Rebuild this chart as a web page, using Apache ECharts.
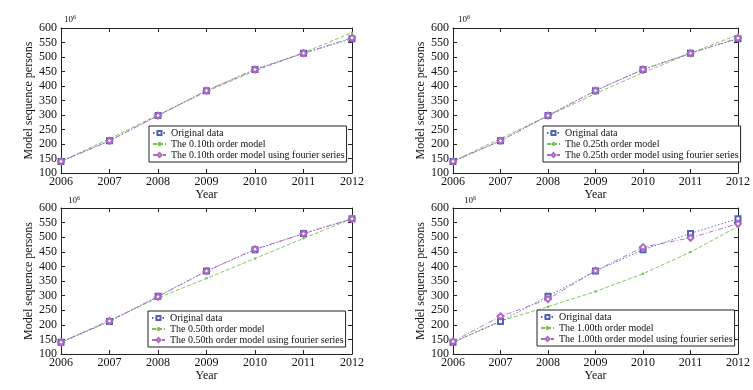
<!DOCTYPE html>
<html><head><meta charset="utf-8">
<script src="https://cdn.jsdelivr.net/npm/echarts@6/dist/echarts.min.js"></script>
<style>html,body{margin:0;padding:0;background:#fff}#c{width:753px;height:390px}</style>
</head><body><div id="c"></div>
<script>
var years = ['2006','2007','2008','2009','2010','2011','2012'];
var yTicks = [100,150,200,250,300,350,400,450,500,550,600];
var orders = ['0.10','0.25','0.50','1.00'];
var original = [140, 211, 298, 384, 457, 513, 563];
var model010 = [140, 218, 300, 381, 452, 515, 584];
var fourier010 = [140, 211, 298, 384, 457, 513, 566];
var model025 = [140, 219, 297, 374, 446, 513, 577];
var fourier025 = [140, 211, 298, 384, 457, 513, 565];
var model050 = [140, 215, 292, 359, 427, 496, 563];
var fourier050 = [140, 213, 296, 384, 459, 512, 563];
var model100 = [140, 213, 262, 314, 375, 449, 537];
var fourier100 = [143, 229, 288, 385, 466, 498, 546];
var models = [model010, model025, model050, model100];
var fouriers = [fourier010, fourier025, fourier050, fourier100];

var FONT = 'Liberation Serif';
var grids = [
  {left:61, top:28, width:291, height:145},
  {left:453, top:28, width:292, height:145},
  {left:61, top:208, width:291, height:146},
  {left:453, top:208, width:292, height:146}
];
var legendPos = [
  {left:149, top:126},
  {left:543, top:126},
  {left:148, top:311},
  {left:537, top:310}
];
var expPos = [[64,14],[458,14],[68,195],[464,195]];
var cBlue = '#5262b0', cGreen = '#74c050', cPurple = '#b068c4';

var xAxes = [], yAxes = [], series = [], legends = [], graphics = [];
grids.forEach(function(g, i){
  var lineS = {show:true, lineStyle:{color:'#222', width:1}};
  xAxes.push({gridIndex:i, type:'category', data:years, boundaryGap:false, position:'bottom',
    axisLine:lineS, axisTick:{show:true, inside:true, length:4, lineStyle:{color:'#222'}},
    axisLabel:{color:'#111', fontFamily:FONT, fontSize:12, margin:3},
    splitLine:{show:false},
    name:'Year', nameLocation:'middle', nameGap:15,
    nameTextStyle:{color:'#111', fontFamily:FONT, fontSize:12}});
  xAxes.push({gridIndex:i, type:'category', data:years, boundaryGap:false, position:'top',
    axisLine:lineS, axisTick:{show:true, inside:true, length:4, lineStyle:{color:'#222'}},
    axisLabel:{show:false}, splitLine:{show:false}});
  yAxes.push({gridIndex:i, type:'value', min:100, max:600, interval:50, position:'left',
    axisLine:lineS, axisTick:{show:true, inside:true, length:4, lineStyle:{color:'#222'}},
    axisLabel:{color:'#111', fontFamily:FONT, fontSize:12, margin:4},
    splitLine:{show:false},
    name:'Model sequence persons', nameLocation:'middle', nameGap:26,
    nameTextStyle:{color:'#111', fontFamily:FONT, fontSize:12}});
  yAxes.push({gridIndex:i, type:'value', min:100, max:600, interval:50, position:'right',
    axisLine:lineS, axisTick:{show:true, inside:true, length:4, lineStyle:{color:'#222'}},
    axisLabel:{show:false}, splitLine:{show:false}});
  var n1 = 'The ' + orders[i] + 'th order model';
  var n2 = 'The ' + orders[i] + 'th order model using fourier series';
  series.push({name:'Original data', type:'line', xAxisIndex:2*i, yAxisIndex:2*i, data:original,
    symbol:'emptyRect', symbolSize:5, showSymbol:true, color:cBlue,
    lineStyle:{width:0.9, type:[1.5,2]}, itemStyle:{color:cBlue, borderWidth:0.9}, z:3});
  series.push({name:n1, type:'line', xAxisIndex:2*i, yAxisIndex:2*i, data:models[i],
    symbol:'circle', symbolSize:2.5, color:cGreen,
    lineStyle:{width:0.9, type:[4,2]}, itemStyle:{color:cGreen}, z:2});
  series.push({name:n2, type:'line', xAxisIndex:2*i, yAxisIndex:2*i, data:fouriers[i],
    symbol:'emptyDiamond', symbolSize:6, color:cPurple,
    lineStyle:{width:0.9, type:[5,2,1,2]}, itemStyle:{color:cPurple, borderWidth:0.9}, z:4});
  legends.push({left:legendPos[i].left, top:legendPos[i].top, orient:'vertical',
    data:['Original data', n1, n2], backgroundColor:'#fff',
    borderColor:'#222', borderWidth:1, padding:[2,2,2,3], itemGap:1,
    itemWidth:13, itemHeight:5,
    textStyle:{color:'#111', fontFamily:FONT, fontSize:10}});
  graphics.push({type:'text', left:expPos[i][0], top:expPos[i][1],
    style:{text:'{a|10}{b|6}', rich:{a:{fontFamily:FONT, fontSize:9, fill:'#111'},
      b:{fontFamily:FONT, fontSize:6, fill:'#111', padding:[0,0,5,0]}}}});
});

var chart = echarts.init(document.getElementById('c'), null, {renderer:'canvas'});
chart.setOption({
  animation:false,
  backgroundColor:'#fff',
  grid:grids,
  xAxis:xAxes,
  yAxis:yAxes,
  legend:legends,
  graphic:graphics,
  series:series
});
</script>
</body></html>
